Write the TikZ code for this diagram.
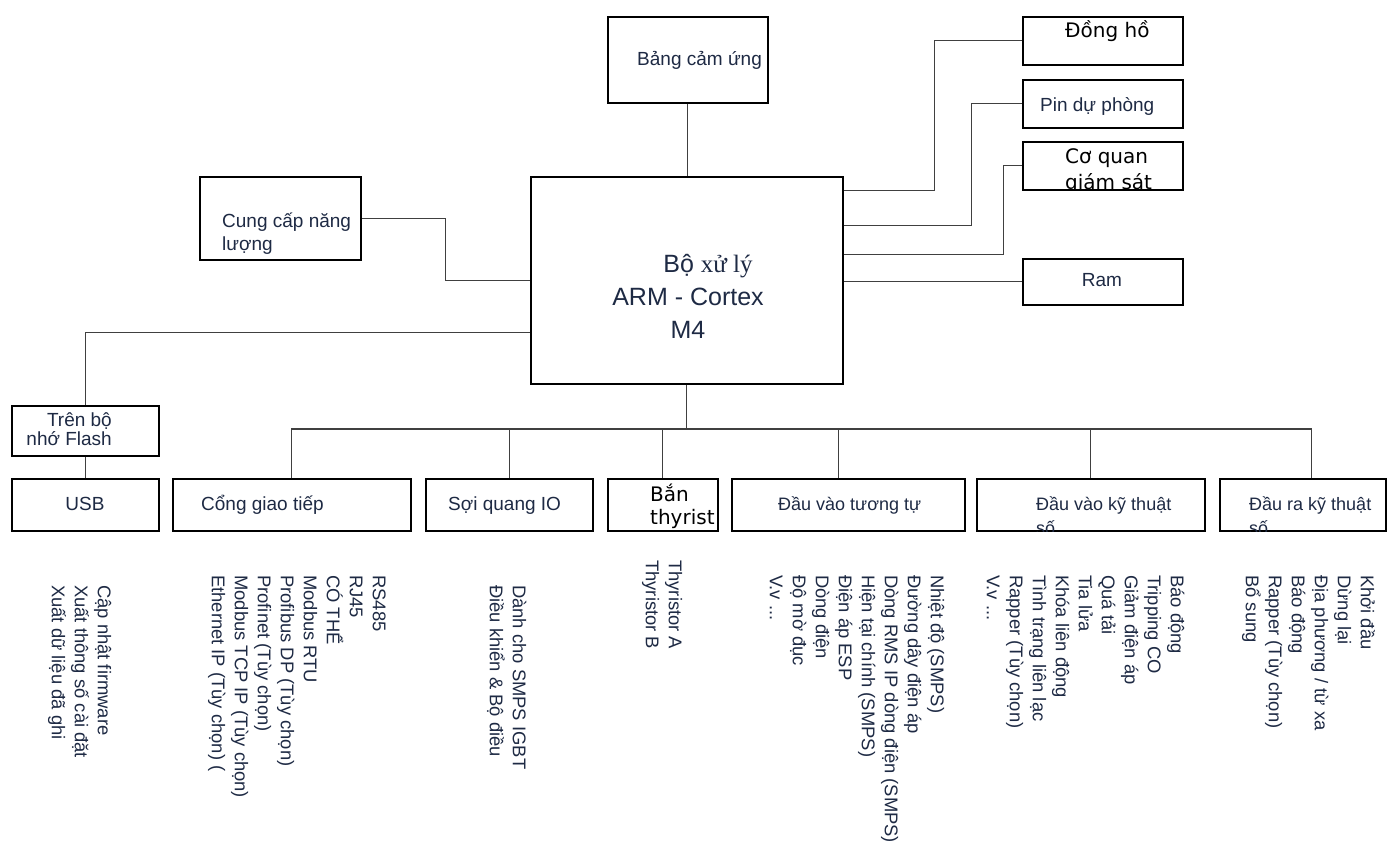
\documentclass[tikz,border=0pt]{standalone}
\usepackage{fontspec}
\setmainfont{Liberation Sans}
\newfontfamily\dejavu{DejaVu Sans}
\newfontfamily\timesvn{Liberation Serif}
\definecolor{ink}{HTML}{1E2A44}

\begin{document}
\begin{tikzpicture}[
  x=1pt, y=-1pt,
  box/.style={draw=black, line width=1.5pt, inner sep=0pt, anchor=north west},
  wire/.style={draw=black!75, line width=1.1pt},
  lbl/.style={inner sep=0pt, text=ink, align=left, font=\fontsize{19}{23}\selectfont},
  wide/.style={inner sep=0pt, text=black, align=left, font=\dejavu\fontsize{20}{23}\selectfont},
  items/.style={inner sep=0pt, text=ink, align=left, rotate=-90, anchor=north west,
    font=\fontsize{18.4}{23}\selectfont}
]
\useasboundingbox (0,0) rectangle (1396,847);
\fill[white] (0,0) rectangle (1396,847);

% ------------------------------------------------------------
% Processor and the blocks around it
% ------------------------------------------------------------
\node[box, minimum width=312pt, minimum height=207pt] (cpu) at (530,176) {};
\node[box, minimum width=160pt, minimum height=86pt]  (touch) at (607,16) {};
\node[box, minimum width=161pt, minimum height=83pt]  (power) at (199,176) {};
\node[box, minimum width=160pt, minimum height=48pt]  (clock) at (1022,16) {};
\node[box, minimum width=160pt, minimum height=48pt]  (battery) at (1022,79) {};
\node[box, minimum width=160pt, minimum height=48pt]  (monitor) at (1022,141) {};
\node[box, minimum width=160pt, minimum height=46pt]  (ram) at (1022,258) {};
\node[box, minimum width=147pt, minimum height=50pt]  (flash) at (11,405) {};

\node[lbl, anchor=north, align=center, font=\fontsize{25}{33}\selectfont] (cpu-t) at (688,247)
  {\rule{0pt}{25pt}\hspace*{40pt}Bộ {\timesvn xử lý}\\ARM - Cortex\\M4};
\node[lbl, anchor=base west] (touch-t) at (637,65) {Bảng cảm ứng};
\node[lbl, anchor=north west] (power-t) at (222,207) {\rule{0pt}{20pt}Cung cấp năng\\lượng};
\node[wide, anchor=base west] (clock-t) at (1065,37) {Đồng hồ};
\node[lbl, anchor=base west] (battery-t) at (1040,111) {Pin dự phòng};
\begin{scope}
  \clip (monitor.north west) rectangle (monitor.south east);
  \node[wide, anchor=north west, font=\dejavu\fontsize{20}{26}\selectfont] (monitor-t) at (1065,143)
    {\rule{0pt}{20pt}Cơ quan\\giám sát};
\end{scope}
\node[lbl, anchor=base] (ram-t) at (1102,286) {Ram};
\node[lbl, anchor=north east, align=right, font=\fontsize{19}{19}\selectfont] (flash-t) at (112,407)
  {\rule{0pt}{19pt}Trên bộ\\nhớ Flash};

% ------------------------------------------------------------
% Bottom row
% ------------------------------------------------------------
\node[box, minimum width=147pt, minimum height=52pt] (usb) at (11,478) {};
\node[box, minimum width=238pt, minimum height=52pt] (comm) at (172,478) {};
\node[box, minimum width=167pt, minimum height=52pt] (fiber) at (425,478) {};
\node[box, minimum width=110pt, minimum height=52pt] (thyr) at (607,478) {};
\node[box, minimum width=233pt, minimum height=52pt] (analog) at (731,478) {};
\node[box, minimum width=228pt, minimum height=52pt] (digin) at (976,478) {};
\node[box, minimum width=166pt, minimum height=52pt] (digout) at (1219,478) {};

\node[lbl, anchor=base] (usb-t) at (85,510) {USB};
\node[lbl, anchor=base west] (comm-t) at (201,510) {Cổng giao tiếp};
\node[lbl, anchor=base west] (fiber-t) at (448,510) {Sợi quang IO};
\begin{scope}
  \clip (thyr.north west) rectangle (thyr.south east);
  \node[wide, anchor=north west] (thyr-t) at (650,481) {\rule{0pt}{20pt}Bắn\\thyrist};
\end{scope}
\node[lbl, anchor=base west, font=\fontsize{18}{23}\selectfont] (analog-t) at (778,510) {Đầu vào tương tự};
\begin{scope}
  \clip (digin.north west) rectangle (digin.south east);
  \node[lbl, anchor=north west, font=\fontsize{18}{24}\selectfont] (digin-t) at (1036,490)
    {\rule{0pt}{20pt}Đầu vào kỹ thuật\\số};
\end{scope}
\begin{scope}
  \clip (digout.north west) rectangle (digout.south east);
  \node[lbl, anchor=north west, font=\fontsize{18}{24}\selectfont] (digout-t) at (1249,490)
    {\rule{0pt}{20pt}Đầu ra kỹ thuật\\số};
\end{scope}

% ------------------------------------------------------------
% Rotated lists under the bottom row
% ------------------------------------------------------------
\node[items] (usb-l) at (116,585)
  {\rule{0pt}{18pt}Cập nhật firmware\\Xuất thông số cài đặt\\Xuất dữ liệu đã ghi};
\node[items] (comm-l) at (391,575)
  {\rule{0pt}{18pt}RS485\\RJ45\\CÓ THỂ\\Modbus RTU\\Profibus DP (Tùy chọn)\\Profinet (Tùy chọn)\\Modbus TCP IP (Tùy chọn)\\Ethernet IP (Tùy chọn) (};
\node[items] (fiber-l) at (531,585)
  {\rule{0pt}{18pt}Dành cho SMPS IGBT\\Điều khiển \& Bộ điều};
\node[items] (thyr-l) at (687,560)
  {\rule{0pt}{18pt}Thyristor A\\Thyristor B};
\node[items] (analog-l) at (949,575)
  {\rule{0pt}{18pt}Nhiệt độ (SMPS)\\Đường dây điện áp\\Dòng RMS IP dòng điện (SMPS)\\Hiện tại chính (SMPS)\\Điện áp ESP\\Dòng điện\\Độ mờ đục\\V.v ...};
\node[items] (digin-l) at (1189,575)
  {\rule{0pt}{18pt}Báo động\\Tripping CO\\Giảm điện áp\\Quá tải\\Tia lửa\\Khóa liên động\\Tình trạng liên lạc\\Rapper (Tùy chọn)\\V.v ...};
\node[items] (digout-l) at (1379,575)
  {\rule{0pt}{18pt}Khởi đầu\\Dừng lại\\Địa phương / từ xa\\Báo động\\Rapper (Tùy chọn)\\Bổ sung};

% ------------------------------------------------------------
% Connectors
% ------------------------------------------------------------
\draw[wire] (touch.south) -- (touch.south |- cpu.north);
\draw[wire] (power.east) -- ++(84,0) |- (cpu.west);
\draw[wire] ([yshift=-52pt]cpu.west) -| (flash.north);
\draw[wire] (flash.south) -- (usb.north);

\draw[wire] ([yshift=90pt]cpu.east) -- ++(91,0) |- (clock.west);
\draw[wire] ([yshift=55pt]cpu.east) -- ++(128,0) |- (battery.west);
\draw[wire] ([yshift=26pt]cpu.east) -- ++(160,0) |- (monitor.west);
\draw[wire] (cpu.east |- ram.west) -- (ram.west);

\coordinate (bus) at (cpu.south |- 0,429);
\draw[wire] (cpu.south) -- (bus);
\draw[wire] (comm.north) |- (bus) -| ([xshift=9pt]digout.north);
\foreach \b in {fiber, thyr, digin}
  \draw[wire] (\b.north) -- (\b.north |- bus);
\draw[wire] ([xshift=-10pt]analog.north) -- ([xshift=-10pt]analog.north |- bus);

\end{tikzpicture}
\end{document}
